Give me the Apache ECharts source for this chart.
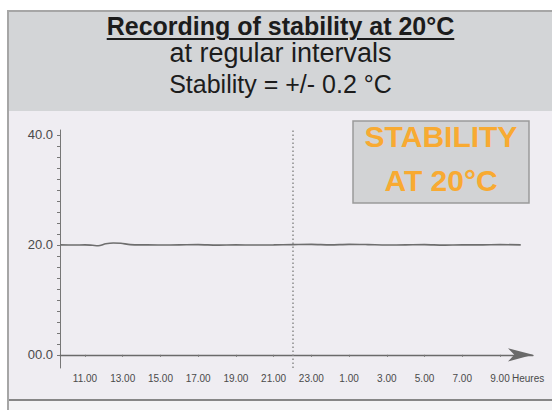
<!DOCTYPE html>
<html>
<head>
<meta charset="utf-8">
<script src="https://cdn.jsdelivr.net/npm/echarts@6/dist/echarts.min.js"></script>
<style>
  html,body{margin:0;padding:0;background:#fff;}
  #wrap{position:relative;width:552px;height:410px;overflow:hidden;font-family:"Liberation Sans",Arial,sans-serif;}
  .abs{position:absolute;}
  #frameL{left:7px;top:10px;width:2px;height:400px;background:#a6a6a6;}
  #frameT{left:7px;top:10px;width:545px;height:2px;background:#a6a6a6;}
  #header{left:9px;top:12px;width:543px;height:99px;background:#d3d5d7;}
  #plotbg{left:9px;top:111px;width:543px;height:288px;background:#efedf2;}
  #bottomline{left:9px;top:399px;width:543px;height:2px;background:#868686;}
  #below{left:9px;top:401px;width:543px;height:9px;background:#f3f3f5;}
  .htxt{position:absolute;left:9px;width:543px;text-align:center;color:#1c1c1c;white-space:nowrap;}
  #t1{top:13px;font-size:25px;line-height:26px;font-weight:bold;text-decoration:underline;text-underline-offset:3px;text-decoration-thickness:2px;}
  #t2{top:39px;font-size:27px;line-height:28px;}
  #t3{top:71px;font-size:25px;line-height:26px;}
  #chart{position:absolute;left:0;top:0;width:552px;height:410px;}
</style>
</head>
<body>
<div id="wrap">
  <div class="abs" id="frameL"></div>
  <div class="abs" id="frameT"></div>
  <div class="abs" id="header"></div>
  <div class="abs" id="plotbg"></div>
  <div class="abs" id="bottomline"></div>
  <div class="abs" id="below"></div>
  <div class="htxt" id="t1">Recording of stability at 20°C</div>
  <div class="htxt" id="t2">at regular intervals</div>
  <div class="htxt" id="t3">Stability = +/- 0.2 °C</div>
  <div id="chart"></div>
</div>
<script>
// Time in hours (day 1 midnight = 0; values above 24 are the next day)
var hours = [9.7, 10.4, 11.0, 11.4, 11.7, 12.1, 12.5, 12.9, 13.4, 14.2, 15.0, 16.0, 17.0, 18.0, 19.0, 20.0, 21.0, 22.0, 23.0, 24.0, 25.0, 26.0, 27.0, 28.0, 29.0, 30.0, 31.0, 32.0, 33.0, 34.1];
var temperature = [20.0, 19.97, 20.0, 19.92, 19.85, 20.2, 20.35, 20.3, 20.05, 20.0, 19.97, 20.0, 20.05, 19.95, 20.0, 19.97, 20.0, 20.05, 20.1, 20.0, 20.1, 20.05, 19.97, 20.0, 20.05, 19.95, 20.0, 20.0, 20.05, 20.0];

var xTickValues = [11, 13, 15, 17, 19, 21, 23, 25, 27, 29, 31, 33];
var xTickLabels = ['11.00', '13.00', '15.00', '17.00', '19.00', '21.00', '23.00', '1.00', '3.00', '5.00', '7.00', '9.00'];
var yLabelValues = [0, 20, 40];
var yLabelTexts = ['00.0', '20.0', '40.0'];
var yMinorTicks = [0, 2, 4, 6, 8, 10, 12, 14, 16, 18, 20, 22, 24, 26, 28, 30, 32, 34, 36, 38, 40];
var markerHour = 22;
var xUnit = 'Heures';
var badgeLines = ['STABILITY', 'AT 20°C'];

var chart = echarts.init(document.getElementById('chart'), null, {renderer: 'svg'});
var data = hours.map(function (h, i) { return [h, temperature[i]]; });

chart.setOption({
  backgroundColor: 'transparent',
  animation: false,
  grid: {left: 60, right: 19, top: 130, bottom: 42, containLabel: false},
  xAxis: {
    type: 'value',
    min: 9.675,
    max: 34.75,
    splitLine: {show: false},
    axisLine: {show: true, lineStyle: {color: '#6a6a6a', width: 1.3}, symbol: ['none', 'arrow'], symbolSize: [10, 25]},
    axisTick: {show: true, customValues: xTickValues, length: 2, lineStyle: {color: '#777'}},
    axisLabel: {
      customValues: xTickValues,
      margin: 5,
      color: '#4a4a4a',
      fontSize: 10,
      fontFamily: 'Liberation Sans',
      formatter: function (v) {
        var i = xTickValues.indexOf(v);
        return i >= 0 ? xTickLabels[i] : '';
      }
    }
  },
  yAxis: {
    type: 'value',
    min: -2.4,
    max: 40.9,
    splitLine: {show: false},
    axisLine: {show: true, lineStyle: {color: '#777', width: 1}},
    axisTick: {show: true, customValues: yMinorTicks, length: 3, lineStyle: {color: '#777'}},
    axisLabel: {
      customValues: yLabelValues,
      margin: 7,
      color: '#4a4a4a',
      fontSize: 13,
      fontFamily: 'Liberation Sans',
      formatter: function (v) {
        var i = yLabelValues.indexOf(v);
        return i >= 0 ? yLabelTexts[i] : '';
      }
    }
  },
  series: [{
    type: 'line',
    data: data,
    showSymbol: false,
    smooth: 0.3,
    lineStyle: {color: '#6e6e6e', width: 1.6},
    markLine: {
      silent: true,
      symbol: 'none',
      label: {show: false},
      lineStyle: {color: '#8a8a8a', type: [1.5, 2.5], width: 1.5},
      data: [{xAxis: markerHour}]
    }
  }],
  graphic: [
    {
      type: 'text', left: 512, top: 373,
      style: {text: xUnit, fill: '#4a4a4a', font: '10px "Liberation Sans"'}
    },
    {
      type: 'rect', shape: {x: 353, y: 121, width: 176, height: 82},
      style: {fill: '#d2d3d5', stroke: '#9a9a9a', lineWidth: 1.5}
    },
    {
      type: 'text', x: 441, y: 136,
      style: {text: badgeLines[0], fill: '#f8aa32', font: 'bold 30px "Liberation Sans"', align: 'center', verticalAlign: 'middle'}
    },
    {
      type: 'text', x: 441, y: 180,
      style: {text: badgeLines[1], fill: '#f8aa32', font: 'bold 30px "Liberation Sans"', align: 'center', verticalAlign: 'middle'}
    }
  ]
});
</script>
</body>
</html>
